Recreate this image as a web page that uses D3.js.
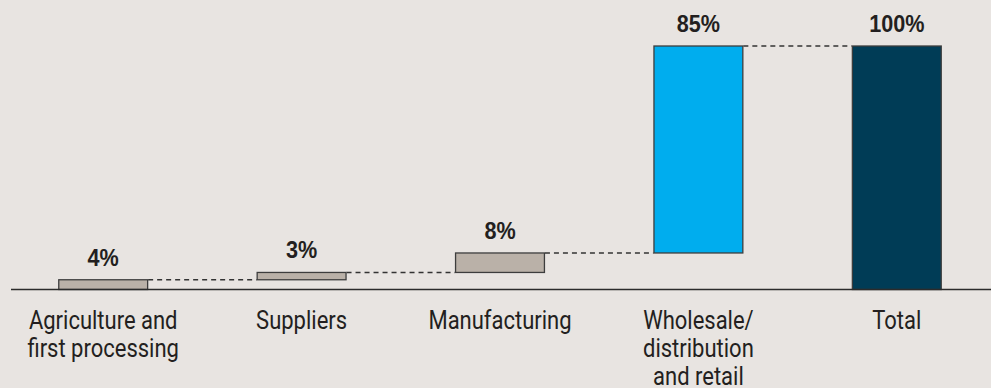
<!DOCTYPE html>
<html>
<head>
<meta charset="utf-8">
<script src="https://cdn.jsdelivr.net/npm/d3@7"></script>
<style>
  html, body { margin: 0; padding: 0; background: #e8e4e1; }
  svg { display: block; }
</style>
</head>
<body>
<svg id="chart" width="991" height="388"></svg>
<script>
// Value chain shares, in percent
const categories = [
  ["Agriculture and", "first processing"],
  ["Suppliers"],
  ["Manufacturing"],
  ["Wholesale/", "distribution", "and retail"],
  ["Total"]
];
const values = [4, 3, 8, 85, 100];
const valueLabels = ["4%", "3%", "8%", "85%", "100%"];
const kinds = ["step", "step", "step", "highlight", "total"];

const fills = { step: "#bab1a8", highlight: "#00adee", total: "#003c56" };

const W = 991, H = 388;
const svg = d3.select("#chart");

const keys = categories.map((c, i) => "c" + i);
const x = d3.scaleBand()
  .domain(keys)
  .range([4, 996])
  .paddingInner(0.547)
  .paddingOuter(0.2735);

const y = d3.scaleLinear().domain([0, 100]).range([289.5, 46]);

// cumulative start/end of each bar
let running = 0;
const bars = values.map((v, i) => {
  let start, end;
  if (kinds[i] === "total") { start = 0; end = v; }
  else { start = running; end = running + v; running = end; }
  return { key: keys[i], start, end, kind: kinds[i], label: valueLabels[i], cat: categories[i] };
});

// dashed connectors between consecutive bars
const links = bars.slice(0, -1).map((b, i) => ({ from: b, to: bars[i + 1], level: b.end }));
svg.append("g").selectAll("line").data(links).join("line")
  .attr("x1", d => x(d.from.key) + x.bandwidth())
  .attr("x2", d => x(d.to.key))
  .attr("y1", d => y(d.level))
  .attr("y2", d => y(d.level))
  .attr("stroke", "#333")
  .attr("stroke-width", 1.5)
  .attr("stroke-dasharray", "5,4");

// bars
svg.append("g").selectAll("rect").data(bars).join("rect")
  .attr("x", d => x(d.key) + 0.5)
  .attr("width", x.bandwidth() - 1)
  .attr("y", d => y(d.end))
  .attr("height", d => y(d.start) - y(d.end))
  .attr("fill", d => fills[d.kind])
  .attr("stroke", "#3d3d3d")
  .attr("stroke-width", 1.3);

// baseline axis
svg.append("line")
  .attr("x1", 11).attr("x2", W)
  .attr("y1", y(0)).attr("y2", y(0))
  .attr("stroke", "#2b2b2b")
  .attr("stroke-width", 1.6);

// value labels above bars
svg.append("g").selectAll("text").data(bars).join("text")
  .attr("transform", d => `translate(${x(d.key) + x.bandwidth() / 2},${y(d.end) - 14}) scale(0.94,1)`)
  .attr("text-anchor", "middle")
  .attr("font-family", "'Liberation Sans', Arial, sans-serif")
  .attr("font-weight", "bold")
  .attr("font-size", 23)
  .attr("fill", "#231f20")
  .text(d => d.label);

// category labels below the axis, set in a condensed cut
const narrow = 0.88;
const catGroups = svg.append("g").selectAll("g").data(bars).join("g")
  .attr("transform", d => `translate(${x(d.key) + x.bandwidth() / 2},329) scale(${narrow},1)`);
const catText = catGroups.append("text")
  .attr("text-anchor", "middle")
  .attr("font-family", "Roboto, 'Liberation Sans', sans-serif")
  .attr("font-size", 25)
  .attr("fill", "#231f20");
catText.selectAll("tspan").data(d => d.cat)
  .join("tspan")
  .attr("x", 0)
  .attr("dy", (d, i) => i === 0 ? 0 : 28)
  .text(d => d);
</script>
</body>
</html>
